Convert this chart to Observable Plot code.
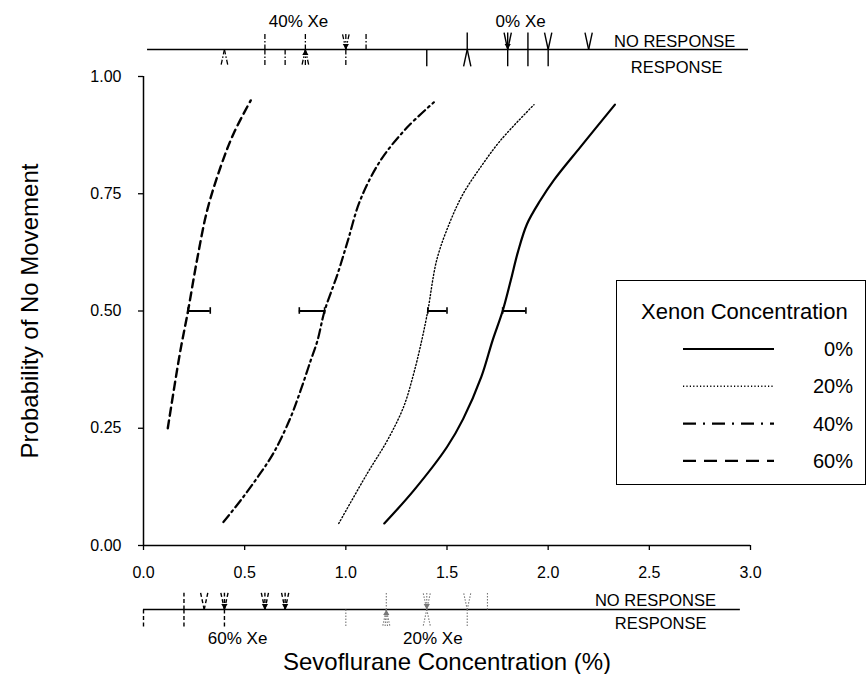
<!DOCTYPE html>
<html><head><meta charset="utf-8">
<script src="https://cdn.jsdelivr.net/npm/d3@7"></script>
<script src="https://cdn.jsdelivr.net/npm/@observablehq/plot@0.6"></script>
<style>
body{margin:0;background:#fff;}
#wrap{position:relative;width:866px;height:674px;font-family:"Liberation Sans",Arial,Helvetica,sans-serif;}
#legend{position:absolute;left:616px;top:280px;width:250px;height:205px;border:1.5px solid #000;background:#fff;box-sizing:border-box;}
</style></head><body><div id="wrap"></div>
<script>
// ---- data ----
const groups = ["0%", "20%", "40%", "60%"];

const conc0 = [1.19, 1.335, 1.50, 1.58, 1.67, 1.725, 1.775, 1.815, 1.85, 1.895, 1.96, 2.03, 2.16, 2.33];
const prob0 = [0.047, 0.117, 0.21, 0.27, 0.36, 0.437, 0.50, 0.565, 0.625, 0.685, 0.735, 0.78, 0.85, 0.94];

const conc20 = [0.965, 1.105, 1.205, 1.285, 1.335, 1.375, 1.405, 1.45, 1.515, 1.58, 1.665, 1.765, 1.93];
const prob20 = [0.047, 0.153, 0.224, 0.295, 0.366, 0.437, 0.50, 0.61, 0.69, 0.75, 0.806, 0.864, 0.94];

const conc40 = [0.395, 0.48, 0.563, 0.645, 0.727, 0.776, 0.826, 0.86, 0.895, 0.96, 1.01, 1.07, 1.17, 1.30, 1.435];
const prob40 = [0.05, 0.096, 0.145, 0.199, 0.273, 0.33, 0.394, 0.437, 0.50, 0.58, 0.65, 0.735, 0.82, 0.89, 0.945];

const conc60 = [0.12, 0.18, 0.22, 0.265, 0.315, 0.38, 0.445, 0.53];
const prob60 = [0.25, 0.41, 0.50, 0.61, 0.715, 0.806, 0.878, 0.949];

// error bars at P = 0.50
const ebGroup = ["0%", "20%", "40%", "60%"];
const ebLow = [1.775, 1.405, 0.77, 0.22];
const ebHigh = [1.89, 1.50, 0.895, 0.33];
const ebProb = [0.5, 0.5, 0.5, 0.5];

// individual responses, top strip (40% and 0% Xe)
const topConc    = [0.4, 0.6, 0.7, 0.8, 1.0, 1.1, 1.4, 1.6, 1.8, 1.9, 2.0, 2.2];
const topGroup   = ["40%","40%","40%","40%","40%","40%","0%","0%","0%","0%","0%","0%"];
const topNoResp  = [0, 1, 0, 1, 3, 1, 0, 1, 3, 1, 2, 2];
const topResp    = [2, 1, 1, 3, 1, 0, 1, 2, 1, 1, 1, 0];

// bottom strip (60% and 20% Xe)
const botConc    = [0.0, 0.2, 0.3, 0.4, 0.6, 0.7, 1.0, 1.2, 1.4, 1.6, 1.7];
const botGroup   = ["60%","60%","60%","60%","60%","60%","20%","20%","20%","20%","20%"];
const botNoResp  = [0, 1, 2, 3, 3, 3, 0, 1, 3, 2, 1];
const botResp    = [1, 1, 0, 1, 0, 0, 1, 4, 2, 1, 0];

const xTicks = [0, 0.5, 1, 1.5, 2, 2.5, 3];
const yTicks = [0, 0.25, 0.5, 0.75, 1];

// ---- styles ----
const lineStyle = {
  "0%":  {strokeWidth: 2.2},
  "20%": {strokeWidth: 1.4, strokeDasharray: "1.2,2.2"},
  "40%": {strokeWidth: 2.2, strokeDasharray: "9,4,2,4"},
  "60%": {strokeWidth: 2.4, strokeDasharray: "8,5"}
};
const stripStyle = {
  "0%":  {strokeWidth: 1.4, stroke: "#000"},
  "20%": {strokeWidth: 1.1, strokeDasharray: "1.5,1.5", stroke: "#777"},
  "40%": {strokeWidth: 1.3, strokeDasharray: "5,2,1.5,2", stroke: "#000"},
  "60%": {strokeWidth: 1.4, strokeDasharray: "4,2.5", stroke: "#000"}
};

// ---- derived tables ----
const curveRows = [
  ...conc0.map((x, i) => ({group: "0%", x, y: prob0[i]})),
  ...conc20.map((x, i) => ({group: "20%", x, y: prob20[i]})),
  ...conc40.map((x, i) => ({group: "40%", x, y: prob40[i]})),
  ...conc60.map((x, i) => ({group: "60%", x, y: prob60[i]}))
];
const ebRows = ebGroup.map((g, i) => ({group: g, lo: ebLow[i], hi: ebHigh[i], y: ebProb[i]}));

const TOPY = 1.0576, BOTY = -0.1365, H = 0.036, SPREAD = 0.018;
function strip(conc, grp, nUp, nDown, lineY) {
  const segs = [], arrows = [];
  conc.forEach((c, i) => {
    [[nUp[i], 1], [nDown[i], -1]].forEach(([n, dir]) => {
      for (let k = 0; k < n; k++) {
        const off = n === 1 ? 0 : (-1 + 2 * k / (n - 1)) * SPREAD;
        segs.push({group: grp[i], x1: c, y1: lineY, x2: c + off, y2: lineY + dir * H});
      }
      if (n >= 3) arrows.push({group: grp[i], x: c, y: lineY + dir * H * 0.22, dir});
    });
  });
  return {segs, arrows};
}
const topS = strip(topConc, topGroup, topNoResp, topResp, TOPY);
const botS = strip(botConc, botGroup, botNoResp, botResp, BOTY);
const allSegs = [...topS.segs, ...botS.segs];
const allArrows = [...topS.arrows, ...botS.arrows];

const txt = {text: d => d, fill: "#000"};

const chart = Plot.plot({
  width: 866, height: 674,
  marginLeft: 143, marginRight: 116, marginTop: 76, marginBottom: 129,
  x: {domain: [0, 3]},
  y: {domain: [0, 1]},
  style: {fontFamily: '"Liberation Sans", Arial, Helvetica, sans-serif', fontSize: "16px", color: "#000", background: "#fff"},
  marks: [
    Plot.axisX({ticks: xTicks, tickFormat: d3.format(".1f"), tickSize: 5, tickPadding: 16, label: null, fontSize: 16, strokeWidth: 1.3}),
    Plot.axisY({ticks: yTicks, tickFormat: d3.format(".2f"), tickSize: 5, tickPadding: 17, label: null, fontSize: 16, strokeWidth: 1.3}),
    Plot.ruleY([0], {x1: 0, x2: 3, stroke: "#000", strokeWidth: 1.5}),
    Plot.ruleX([0], {y1: 0, y2: 1, stroke: "#000", strokeWidth: 1.5}),
    // curves
    ...groups.map(g => Plot.line(curveRows.filter(d => d.group === g), {
      x: "x", y: "y", stroke: "#000", curve: "catmull-rom", ...lineStyle[g]
    })),
    // error bars
    Plot.ruleY(ebRows, {y: "y", x1: "lo", x2: "hi", stroke: "#000", strokeWidth: 2}),
    Plot.ruleX(ebRows, {x: "lo", y1: d => d.y - 0.007, y2: d => d.y + 0.007, stroke: "#000", strokeWidth: 1.6}),
    Plot.ruleX(ebRows, {x: "hi", y1: d => d.y - 0.007, y2: d => d.y + 0.007, stroke: "#000", strokeWidth: 1.6}),
    // strips
    Plot.ruleY([TOPY], {x1: 0.02, x2: 2.99, stroke: "#000", strokeWidth: 1.3}),
    Plot.ruleY([BOTY], {x1: 0, x2: 2.95, stroke: "#000", strokeWidth: 1.3}),
    ...groups.map(g => Plot.link(allSegs.filter(d => d.group === g), {
      x1: "x1", y1: "y1", x2: "x2", y2: "y2", ...stripStyle[g]
    })),
    Plot.dot(allArrows, {x: "x", y: "y", symbol: "triangle", r: 2.3, fill: d => d.group === "20%" ? "#777" : "#000", stroke: "none", rotate: d => d.dir > 0 ? 180 : 0}),
    // strip labels
    Plot.text(["40% Xe"], {x: 0.766, y: 1.117, fontSize: 17, ...txt}),
    Plot.text(["0% Xe"], {x: 1.864, y: 1.117, fontSize: 17, ...txt}),
    Plot.text(["NO RESPONSE"], {x: 2.625, y: 1.0746, fontSize: 16.5, ...txt}),
    Plot.text(["RESPONSE"], {x: 2.635, y: 1.019, fontSize: 16.5, ...txt}),
    Plot.text(["NO RESPONSE"], {x: 2.53, y: -0.117, fontSize: 16.5, ...txt}),
    Plot.text(["RESPONSE"], {x: 2.556, y: -0.166, fontSize: 16.5, ...txt}),
    Plot.text(["60% Xe"], {x: 0.465, y: -0.198, fontSize: 17, ...txt}),
    Plot.text(["20% Xe"], {x: 1.43, y: -0.198, fontSize: 17, ...txt}),
    // axis titles
    Plot.text(["Sevoflurane Concentration (%)"], {frameAnchor: "bottom", dy: 117, lineAnchor: "middle", textAnchor: "middle", fontSize: 24, ...txt}),
    Plot.text(["Probability of No Movement"], {frameAnchor: "left", dx: -113, rotate: -90, textAnchor: "middle", lineAnchor: "middle", fontSize: 24, ...txt})
  ]
});
const wrap = document.getElementById("wrap");
wrap.appendChild(chart);

// legend
const legend = d3.select(wrap).append("div").attr("id", "legend");
const lsvg = legend.append("svg").attr("width", 248).attr("height", 203)
  .style("font-family", '"Liberation Sans", Arial, Helvetica, sans-serif');
lsvg.append("text").attr("x", 24).attr("y", 30).attr("dy", "0.35em")
  .attr("font-size", 22).text("Xenon Concentration");
groups.forEach((g, i) => {
  const cy = 68 + i * 37.3;
  const s = lineStyle[g];
  lsvg.append("line").attr("x1", 66).attr("x2", 157).attr("y1", cy).attr("y2", cy)
    .attr("stroke", "#000").attr("stroke-width", s.strokeWidth)
    .attr("stroke-dasharray", g === "40%" ? "13,7,2,7" : g === "60%" ? "13,8" : (s.strokeDasharray || null));
  lsvg.append("text").attr("x", 236).attr("y", cy).attr("dy", "0.35em")
    .attr("text-anchor", "end").attr("font-size", 20).text(g);
});
</script></body></html>
